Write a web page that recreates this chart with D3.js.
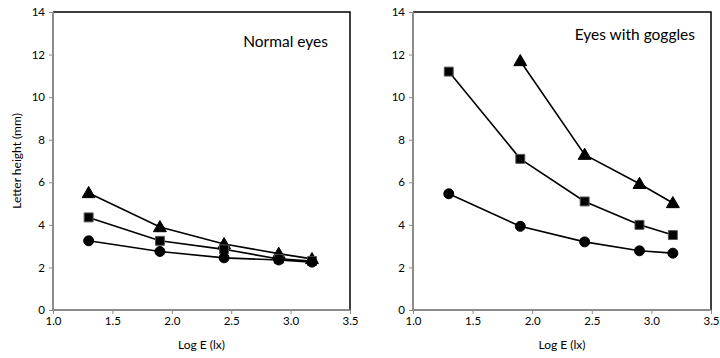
<!DOCTYPE html>
<html><head><meta charset="utf-8">
<script src="https://cdn.jsdelivr.net/npm/d3@7"></script>
<style>body{margin:0;background:#fff;} svg{display:block;} text{font-family:Lato,"Open Sans",sans-serif;}</style>
</head><body>
<svg id="c" width="720" height="358"></svg>
<script>
const logE = [1.3, 1.9, 2.44, 2.9, 3.18];
const xTicks = [1.0, 1.5, 2.0, 2.5, 3.0, 3.5];
const yTicks = [0, 2, 4, 6, 8, 10, 12, 14];
const panelTitles = ["Normal eyes", "Eyes with goggles"];
const normalTriangle = [5.5, 3.9, 3.1, 2.65, 2.4];
const normalSquare = [4.35, 3.25, 2.85, 2.4, 2.3];
const normalCircle = [3.25, 2.75, 2.45, 2.35, 2.25];
const gogglesTriangle = [null, 11.7, 7.3, 5.93, 5.03];
const gogglesSquare = [11.2, 7.1, 5.1, 4.0, 3.52];
const gogglesCircle = [5.46, 3.93, 3.2, 2.78, 2.67];

const panels = [
  {x0: 53, x1: 350, title: panelTitles[0], titleX: 328, titleY: 47, ylabel: true,
   series: [["triangle", normalTriangle], ["square", normalSquare], ["circle", normalCircle]]},
  {x0: 413, x1: 711, title: panelTitles[1], titleX: 695, titleY: 40, ylabel: false,
   series: [["triangle", gogglesTriangle], ["square", gogglesSquare], ["circle", gogglesCircle]]}
];
const yTop = 12, yBot = 310;
const svg = d3.select("#c");

panels.forEach(p => {
  const x = d3.scaleLinear().domain([1.0, 3.5]).range([p.x0, p.x1]);
  const y = d3.scaleLinear().domain([0, 14]).range([yBot, yTop]);
  const g = svg.append("g");
  g.append("path").attr("d", `M${p.x0},${yTop}H${p.x1}V${yBot}`).attr("fill","none").attr("stroke","#000").attr("stroke-width",1.5);
  const ya = g.append("g").attr("transform", `translate(${p.x0},0)`)
    .call(d3.axisLeft(y).tickValues(yTicks).tickSize(4).tickPadding(4).tickFormat(d3.format("d")));
  const xa = g.append("g").attr("transform", `translate(0,${yBot})`)
    .call(d3.axisBottom(x).tickValues(xTicks).tickSize(4).tickPadding(3).tickFormat(d3.format(".1f")));
  [ya, xa].forEach(a => {
    a.select(".domain").attr("stroke", "#8c8c8c").attr("stroke-width", 2);
    a.selectAll(".tick line").attr("stroke", "#8c8c8c").attr("stroke-width", 1);
    a.selectAll("text").attr("fill", "#000").style("font-size", "11.5px").style("font-family", "Lato, 'Open Sans', sans-serif");
  });
  xa.select(".domain").attr("d", `M${p.x0},0H${p.x1}`);
  ya.select(".domain").attr("d", `M0,${yTop}V${yBot}`);

  g.append("text").attr("x", p.titleX).attr("y", p.titleY).attr("text-anchor", "end")
    .style("font-size", "15.5px").text(p.title);
  g.append("text").attr("x", (p.x0 + p.x1) / 2).attr("y", 349).attr("text-anchor", "middle")
    .style("font-size", "12px").text("Log E (lx)");
  if (p.ylabel) {
    g.append("text").attr("transform", `translate(21,${(yTop + yBot) / 2}) rotate(-90)`)
      .attr("text-anchor", "middle").style("font-size", "12px").text("Letter height (mm)");
  }

  const line = d3.line().defined(d => d[1] != null).x(d => x(d[0])).y(d => y(d[1]));
  const symMap = {triangle: [d3.symbolTriangle, 72], square: [d3.symbolSquare, 80], circle: [d3.symbolCircle, 78]};
  p.series.forEach(([shape, vals]) => {
    const pts = logE.map((v, i) => [v, vals[i]]);
    g.append("path").datum(pts).attr("d", line).attr("fill", "none").attr("stroke", "#000").attr("stroke-width", 1.6);
    const [sym, size] = symMap[shape];
    g.selectAll(null).data(pts.filter(d => d[1] != null)).enter().append("path")
      .attr("transform", d => `translate(${x(d[0])},${y(d[1]) + (shape === "triangle" ? 1 : 0)})`)
      .attr("d", d3.symbol().type(sym).size(size))
      .attr("fill", "#000").attr("stroke", shape === "square" ? "#555" : "#000").attr("stroke-width", 1);
  });
});
</script>
</body></html>
